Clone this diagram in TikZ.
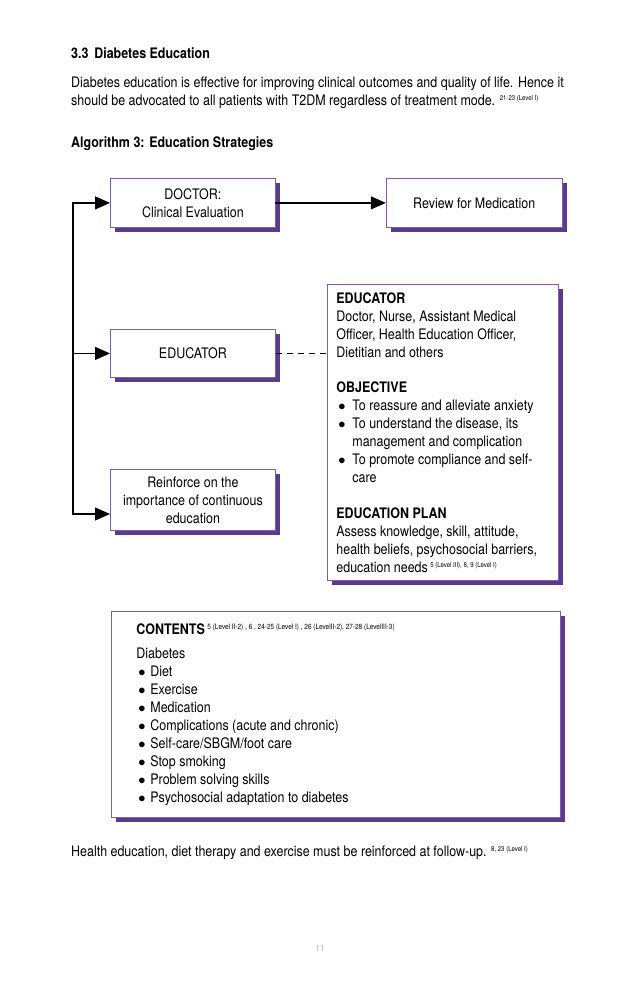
\documentclass[tikz,border=0pt]{standalone}
\usepackage{fontspec}
\setmainfont{TeX Gyre Heros}[FakeStretch=0.86]
\usetikzlibrary{positioning,shadows,arrows.meta}
\definecolor{shpurple}{HTML}{5B3A8E}
\definecolor{edgepurple}{HTML}{7A5FA8}
\newcommand{\txt}{\fontsize{14.5}{18}\selectfont}
\newcommand{\plainspaces}{\spaceskip=0pt\xspaceskip=0pt\relax}
\newcommand{\lvl}[2][7]{\raisebox{5pt}{\plainspaces\fontsize{#1}{8}\selectfont #2}}
\newcommand{\bul}[1][16pt]{\makebox[#1][l]{\hspace{2pt}$\bullet$}}

\begin{document}
\begin{tikzpicture}[x=1pt,y=-1pt,
    box/.style={draw=edgepurple,line width=0.8pt,fill=white,font=\txt,align=center,
        drop shadow={shadow xshift=4.5pt,shadow yshift=-4.5pt,fill=shpurple,opacity=1}},
    smallbox/.style={box,minimum width=165pt,minimum height=49pt,inner sep=2pt},
    plain/.style={font=\txt,inner sep=0pt,anchor=west,align=left},
    link/.style={line width=1.2pt,line cap=rect,-{Triangle[length=15pt,width=13pt]}},
]
    \useasboundingbox (0,0) rectangle (638,993);
    % page text
    \node[plain,font=\txt\bfseries] (title) at (71,53) {3.3\hspace{0.4em}Diabetes Education};
    \node[plain] (intro) at (71,93) {Diabetes education is effective for improving clinical outcomes and quality of life. Hence it\\
        should be advocated to all patients with T2DM regardless of treatment mode. \lvl{21-23 (Level I)}};
    \node[plain,font=\txt\bfseries] (algo) at (71,144) {Algorithm 3: Education Strategies};

    % left column
    \node[smallbox,anchor=north west] (doctor) at (110,178) {DOCTOR:\\ Clinical Evaluation};
    \node[smallbox,right=110pt of doctor,minimum width=176pt] (review) {Review for Medication};
    \node[smallbox,anchor=north west,minimum height=48pt] (educator) at (110,329) {EDUCATOR};
    \node[smallbox,anchor=north west,minimum height=61pt] (reinforce) at (110,469) {Reinforce on the\\ importance of continuous\\ education};

    % educator details
    \node[box,anchor=north west,minimum height=296pt,text width=213pt,align=left,inner xsep=9pt] (info) at (327,284) {\plainspaces
        \textbf{EDUCATOR}\\
        Doctor, Nurse, Assistant Medical\\
        Officer, Health Education Officer,\\
        Dietitian and others\\[17pt]
        \textbf{OBJECTIVE}\\
        \bul To reassure and alleviate anxiety\\
        \bul To understand the disease, its\\
        \hspace*{16pt}management and complication\\
        \bul To promote compliance and self-\\
        \hspace*{16pt}care\\[18pt]
        \textbf{EDUCATION PLAN}\\
        Assess knowledge, skill, attitude,\\
        health beliefs, psychosocial barriers,\\
        education needs\,\lvl{5 (Level III), 8, 9 (Level I)}};

    % contents
    \node[box,anchor=north west,minimum height=206pt,text width=399pt,align=left,inner xsep=25pt] (contents) at (111,611) {\plainspaces
        \textbf{CONTENTS}\,\lvl[7.5]{5 (Level II-2) , 6 , 24-25 (Level I) , 26 (LevelII-2), 27-28 (LevelIII-3)}\\[6pt]
        Diabetes\\
        \bul[14pt]Diet\\
        \bul[14pt]Exercise\\
        \bul[14pt]Medication\\
        \bul[14pt]Complications (acute and chronic)\\
        \bul[14pt]Self-care/SBGM/foot care\\
        \bul[14pt]Stop smoking\\
        \bul[14pt]Problem solving skills\\
        \bul[14pt]Psychosocial adaptation to diabetes};

    \node[plain] (followup) at (71,853) {Health education, diet therapy and exercise must be reinforced at follow-up. \lvl{8, 23 (Level I)}};
    \node[font=\fontsize{9}{10}\selectfont,text=gray!60] (page) at (320,948) {11};

    % connectors
    \coordinate (spine) at (73,0);
    \coordinate (rin) at (110,514);
    \draw[link] (rin -| spine) -- (doctor.west -| spine) -- (doctor.west);
    \draw[link] (spine |- educator.west) -- (educator.west);
    \draw[link] (rin -| spine) -- (rin);
    \draw[link] (doctor.east) -- (review.west);
    \draw[line width=0.8pt,dash pattern=on 6pt off 5pt] (educator.east) -- (educator.east -| info.west);
\end{tikzpicture}
\end{document}
